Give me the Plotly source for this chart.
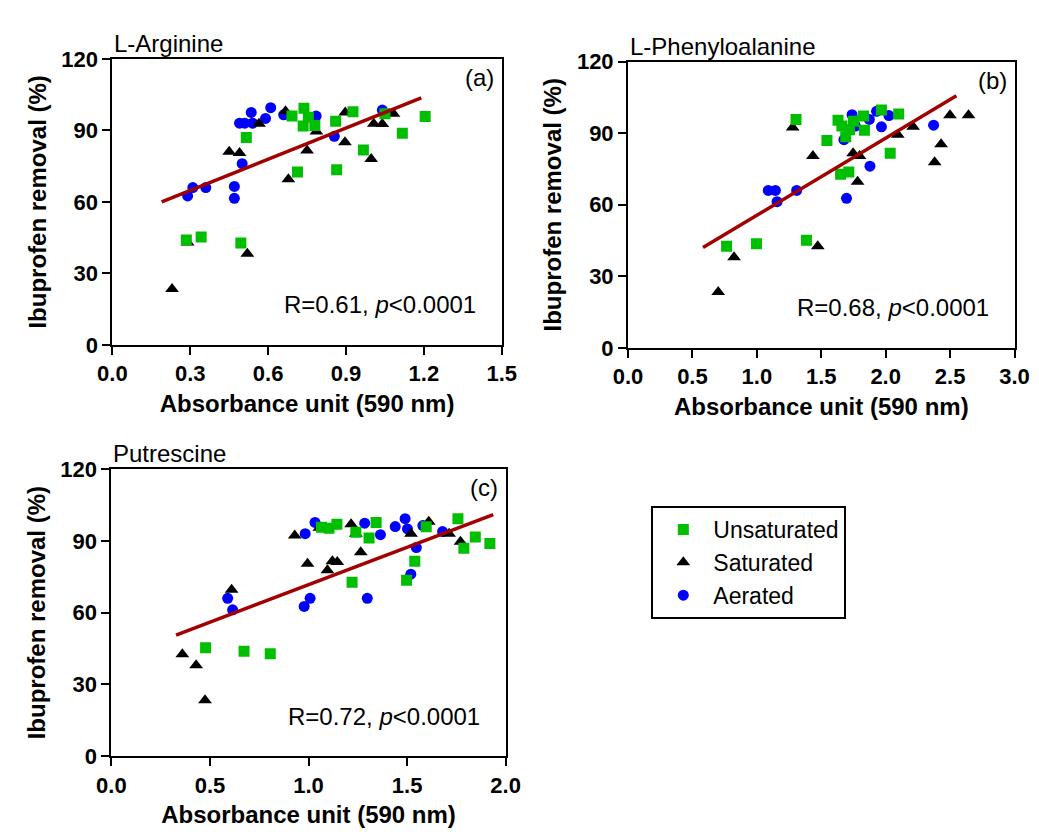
import numpy as np
import plotly.graph_objects as go

# ---------------- data ----------------
# Panel (a) L-Arginine
arg_unsat_x = [0.285, 0.342, 0.495, 0.516, 0.692, 0.713, 0.738, 0.735, 0.755, 0.78, 0.86, 0.864, 0.927, 0.967, 1.05, 1.117, 1.205]
arg_unsat_y = [44, 45.3, 42.8, 87, 96, 72.5, 99.3, 91.8, 95.5, 92, 93.8, 73.5, 97.8, 81.8, 97, 88.8, 95.8]
arg_sat_x = [0.23, 0.29, 0.45, 0.49, 0.52, 0.565, 0.667, 0.678, 0.75, 0.786, 0.897, 0.896, 0.997, 1.007, 1.04, 1.083]
arg_sat_y = [23.5, 43, 81, 80.5, 38.3, 92.8, 98, 69.5, 81.5, 89.5, 97.5, 85, 78, 92.8, 92.7, 97]
arg_aer_x = [0.29, 0.31, 0.36, 0.47, 0.47, 0.50, 0.49, 0.51, 0.54, 0.535, 0.59, 0.61, 0.66, 0.785, 0.855, 1.04]
arg_aer_y = [62.5, 66, 66, 66.5, 61.5, 76, 93, 93, 93, 97.5, 95, 99.5, 96.5, 96, 87.5, 98.5]

# Panel (b) L-Phenyloalanine
phe_unsat_x = [0.765, 0.997, 1.304, 1.385, 1.544, 1.63, 1.65, 1.714, 1.66, 1.69, 1.72, 1.75, 1.828, 1.835, 1.967, 2.035, 2.101]
phe_unsat_y = [42.6, 43.7, 95.8, 45.1, 87, 95.4, 72.8, 73.7, 93, 88.5, 91.5, 95, 97.2, 91.3, 99.8, 81.6, 98.1]
phe_sat_x = [0.70, 0.823, 1.278, 1.435, 1.473, 1.747, 1.797, 1.782, 2.094, 2.213, 2.38, 2.43, 2.499, 2.643]
phe_sat_y = [23.4, 38, 92.4, 80.5, 42.6, 81.6, 80.5, 69.7, 89.4, 92.7, 77.8, 85.4, 97.6, 97.6]
phe_aer_x = [1.089, 1.144, 1.157, 1.309, 1.676, 1.696, 1.739, 1.765, 1.878, 1.873, 1.929, 1.967, 2.025, 2.372]
phe_aer_y = [66, 66, 61.3, 66, 87.3, 62.7, 97.8, 93, 76.2, 95.8, 99.2, 92.7, 97.4, 93.4]

# Panel (c) Putrescine
put_unsat_x = [0.478, 0.673, 0.806, 1.066, 1.104, 1.144, 1.221, 1.24, 1.307, 1.343, 1.4975, 1.539, 1.597, 1.758, 1.788, 1.846, 1.92]
put_unsat_y = [45.3, 43.9, 42.8, 95.7, 95.3, 97, 72.7, 93.6, 91.2, 97.7, 73.6, 81.5, 95.9, 99.3, 86.9, 91.6, 88.9]
put_sat_x = [0.36, 0.43, 0.475, 0.61, 0.93, 0.995, 1.096, 1.121, 1.146, 1.055, 1.216, 1.265, 1.24, 1.52, 1.61, 1.713, 1.771]
put_sat_y = [42.6, 38, 23.4, 69.6, 92.3, 80.4, 77.7, 81.5, 81.2, 95.5, 97, 85.3, 93, 93, 98, 93, 89.6]
put_aer_x = [0.59, 0.615, 0.978, 1.008, 0.983, 1.033, 1.285, 1.298, 1.365, 1.44, 1.49, 1.502, 1.547, 1.519, 1.58, 1.68]
put_aer_y = [66, 61.2, 62.6, 66, 93, 97.7, 97.4, 66, 92.6, 96, 99.3, 95, 87.2, 76.1, 96.4, 93.9]

# Regression lines (slope, intercept, x-extent)
fit_slope = [43.6, 32.33, 31.3]
fit_intercept = [51.7, 23.28, 40.4]
fit_xmin = [0.19, 0.582, 0.328]
fit_xmax = [1.19, 2.549, 1.937]

panel_titles = ["L-Arginine", "L-Phenyloalanine", "Putrescine"]
panel_tags = ["(a)", "(b)", "(c)"]
panel_stats = ["R=0.61, <i>p</i><0.0001", "R=0.68, <i>p</i><0.0001", "R=0.72, <i>p</i><0.0001"]
series_names = ["Unsaturated", "Saturated", "Aerated"]
x_ranges = [[0, 1.5], [0, 3.0], [0, 2.0]]
x_dticks = [0.3, 0.5, 0.5]
y_ticks = [0, 30, 60, 90, 120]

# ---------------- styling ----------------
W, H = 1039, 834
FONT = "Liberation Sans, Arial, sans-serif"
GREEN = "#00BE00"
BLUE = "#0000FF"
BLACK = "#000000"
RED = "#A30000"

panels = [
    dict(x=(arg_unsat_x, arg_sat_x, arg_aer_x), y=(arg_unsat_y, arg_sat_y, arg_aer_y)),
    dict(x=(phe_unsat_x, phe_sat_x, phe_aer_x), y=(phe_unsat_y, phe_sat_y, phe_aer_y)),
    dict(x=(put_unsat_x, put_sat_x, put_aer_x), y=(put_unsat_y, put_sat_y, put_aer_y)),
]

# pixel boxes of the plot areas: (left, right, top, bottom)
boxes = [(92, 493, 40, 335), (623, 1021, 43, 338), (91, 497, 463, 759)]

styles = [
    dict(symbol="square", color=GREEN, size=11),
    dict(symbol="triangle-up", color=BLACK, size=12),
    dict(symbol="circle", color=BLUE, size=11),
]
ranks = [1, 2, 3]

fig = go.Figure()
for i, p in enumerate(panels):
    xa = "x" if i == 0 else f"x{i+1}"
    ya = "y" if i == 0 else f"y{i+1}"
    # draw order: Aerated (bottom), Saturated, Unsaturated (top)
    for k in [2, 1, 0]:
        st = styles[k]
        fig.add_trace(go.Scatter(
            x=p["x"][k], y=p["y"][k], mode="markers", name=series_names[k],
            marker=dict(symbol=st["symbol"], color=st["color"], size=st["size"], line=dict(width=0)),
            xaxis=xa, yaxis=ya, showlegend=(i == 0), legendrank=ranks[k],
        ))
    lx = np.array([fit_xmin[i], fit_xmax[i]])
    ly = fit_slope[i] * lx + fit_intercept[i]
    fig.add_trace(go.Scatter(x=lx, y=ly, mode="lines", line=dict(color=RED, width=3.5),
                             xaxis=xa, yaxis=ya, showlegend=False, hoverinfo="skip"))

axis_common = dict(showline=True, linecolor="black", linewidth=2, mirror=True,
                   ticks="outside", ticklen=8, tickwidth=2, tickcolor="black",
                   showgrid=False, zeroline=False,
                   tickfont=dict(family=FONT, size=22, color="black", weight="bold"))
title_font = dict(family=FONT, size=24, color="black", weight="bold")

layout = dict(width=W, height=H, margin=dict(l=0, r=0, t=0, b=0), autosize=False,
              paper_bgcolor="white", plot_bgcolor="white", font=dict(family=FONT, color="black"))
annotations = []
for i in range(3):
    l, r, t, b = boxes[i]
    xs = "xaxis" if i == 0 else f"xaxis{i+1}"
    ys = "yaxis" if i == 0 else f"yaxis{i+1}"
    xa = "x" if i == 0 else f"x{i+1}"
    ya = "y" if i == 0 else f"y{i+1}"
    layout[xs] = dict(axis_common, domain=[l / W, r / W], range=x_ranges[i], tick0=0, dtick=x_dticks[i],
                      tickformat=".1f", anchor=ya,
                      title=dict(text="Absorbance unit (590 nm)", font=title_font, standoff=10))
    layout[ys] = dict(axis_common, domain=[1 - b / H, 1 - t / H], range=[0, 120], tickvals=y_ticks,
                      anchor=xa, title=dict(text="Ibuprofen removal (%)", font=title_font, standoff=8))
    annotations.append(dict(text=panel_titles[i], xref="paper", yref="paper", x=l / W, y=1 - (t - 16) / H,
                            xanchor="left", yanchor="middle", showarrow=False,
                            font=dict(family=FONT, size=24, color="black")))
    annotations.append(dict(text=panel_tags[i], xref=f"{xa} domain", yref=f"{ya} domain", x=0.985, y=0.935,
                            xanchor="right", yanchor="middle", showarrow=False,
                            font=dict(family=FONT, size=24, color="black")))
    annotations.append(dict(text=panel_stats[i], xref=f"{xa} domain", yref=f"{ya} domain", x=0.94, y=0.14,
                            xanchor="right", yanchor="middle", showarrow=False,
                            font=dict(family=FONT, size=24, color="black")))
layout["annotations"] = annotations
layout["legend"] = dict(x=647 / W, y=1 - 501 / H, xanchor="left", yanchor="top",
                        bordercolor="black", borderwidth=2, bgcolor="white",
                        font=dict(family=FONT, size=23, color="black"),
                        itemsizing="trace", itemwidth=50, tracegroupgap=0)
fig.update_layout(**layout)
fig.write_html("out.html")
